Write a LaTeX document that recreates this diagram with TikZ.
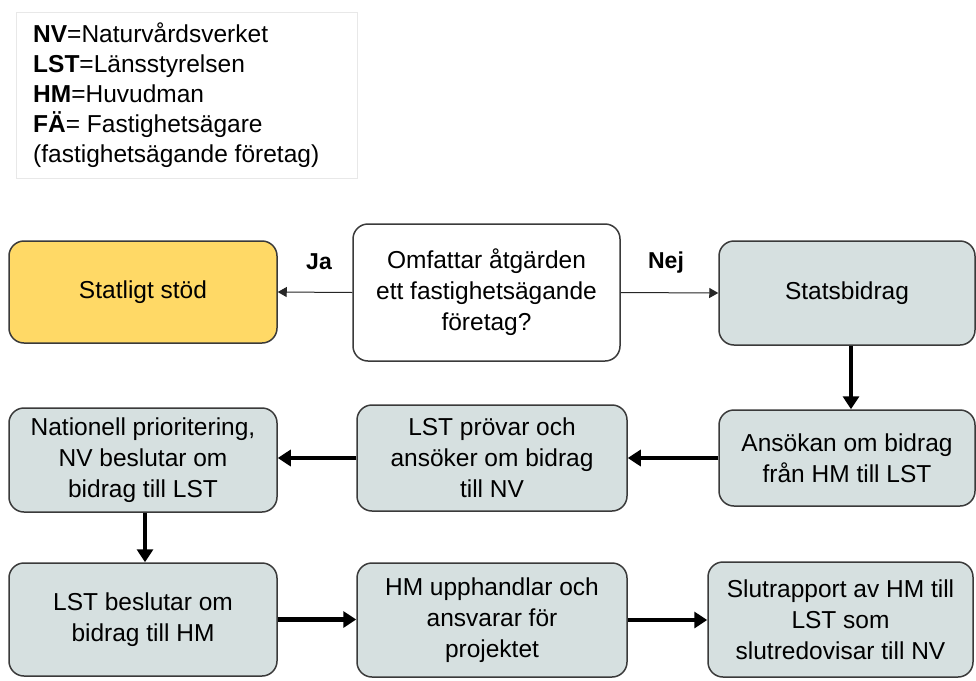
\documentclass[tikz,border=0pt]{standalone}
\usepackage{fontspec}
\setmainfont{Liberation Sans}
\usetikzlibrary{arrows.meta}
\definecolor{boxgray}{HTML}{D6E0E0}
\definecolor{boxyellow}{HTML}{FFD966}
\definecolor{edge}{HTML}{3A3A3A}
\definecolor{legendedge}{HTML}{E8E8E8}
\begin{document}
\begin{tikzpicture}[x=1pt,y=-1pt,
  box/.style={draw=edge,line width=1.5pt,rounded corners=15pt,align=center,
    font=\fontsize{24.5}{31}\selectfont,inner sep=0pt},
  graybox/.style={box,fill=boxgray},
  thin arrow/.style={draw=black!85,line width=1pt,-{Triangle[length=9pt,width=10pt]}},
  thick arrow/.style={draw=black,line width=4.5pt,-{Triangle[length=13pt,width=16pt]}},
  lbl/.style={font=\fontsize{23}{27}\selectfont\bfseries}]
\useasboundingbox (0,0) rectangle (976,680);
\fill[white] (0,0) rectangle (976,680);
% legend
\node[draw=legendedge,line width=0.6pt,minimum width=341pt,minimum height=166pt,inner sep=0pt] (legendbox) at (186.5,95) {};
\node[anchor=west,align=left,font=\fontsize{24.5}{30}\selectfont,inner sep=0pt] (legend) at (33,95)
 {\textbf{NV}=Naturvårdsverket\\\textbf{LST}=Länsstyrelsen\\\textbf{HM}=Huvudman\\\textbf{FÄ}= Fastighetsägare\\(fastighetsägande företag)};
% boxes
\node[box,fill=boxyellow,minimum width=268pt,minimum height=102pt] (stod) at (143,292) {Statligt stöd};
\node[box,fill=white,minimum width=267pt,minimum height=137pt] (q) at (486.5,292.5) {Omfattar åtgärden\\ett fastighetsägande\\företag?};
\node[graybox,minimum width=256pt,minimum height=104pt] (sb) at (847,293) {Statsbidrag};
\node[graybox,minimum width=256pt,minimum height=96pt] (ans) at (847,458) {Ansökan om bidrag\\från HM till LST};
\node[graybox,minimum width=270pt,minimum height=106pt] (lstp) at (492,458) {LST prövar och\\ansöker om bidrag\\till NV};
\node[graybox,minimum width=268pt,minimum height=104pt] (nat) at (143,460) {Nationell prioritering,\\NV beslutar om\\bidrag till LST};
\node[graybox,minimum width=268pt,minimum height=113pt] (lstb) at (143,619.5) {LST beslutar om\\bidrag till HM};
\node[graybox,minimum width=270pt,minimum height=114pt] (hm) at (492,620) {HM upphandlar och\\ansvarar för\\projektet};
\node[graybox,minimum width=265pt,minimum height=115pt] (slut) at (840.5,619.5) {Slutrapport av HM till\\LST som\\slutredovisar till NV};
% labels
\node[lbl] (ja) at (319,262) {Ja};
\node[lbl] (nej) at (666,263) {Nej};
% connectors
\draw[thin arrow] (q.west) -- (stod.east);
\draw[thin arrow] (q.east) -- (sb.west);
\draw[thick arrow] ([xshift=4pt]sb.south) -- ([xshift=4pt]ans.north);
\draw[thick arrow] (ans.west) -- (lstp.east);
\draw[thick arrow] (lstp.west) -- (lstp.west -| nat.east);
\draw[thick arrow] ([xshift=2pt]nat.south) -- ([xshift=2pt]lstb.north);
\draw[thick arrow] (lstb.east) -- (lstb.east -| hm.west);
\draw[thick arrow] (hm.east) -- (hm.east -| slut.west);
\end{tikzpicture}
\end{document}
